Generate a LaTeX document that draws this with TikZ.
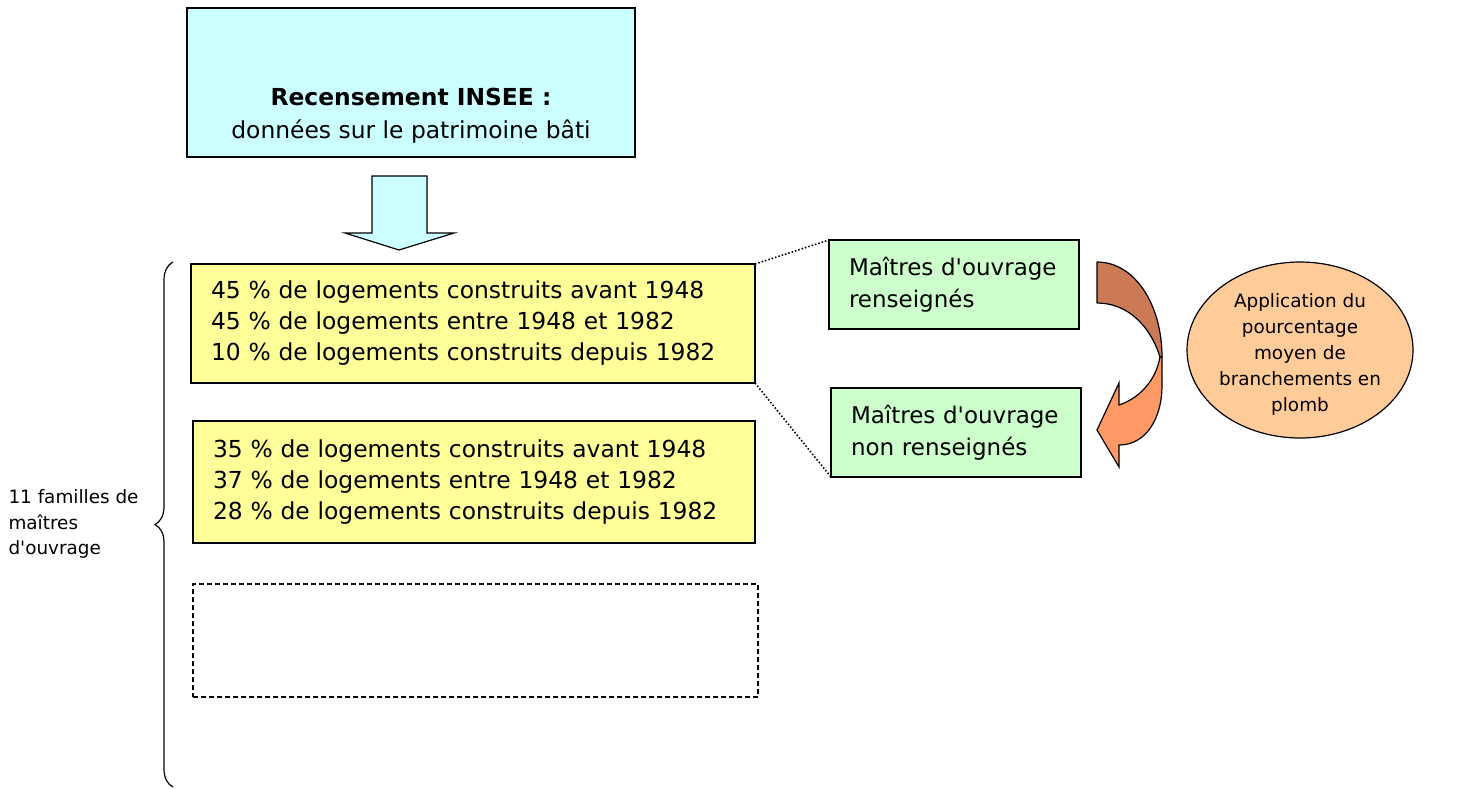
\documentclass[tikz,border=0pt]{standalone}
\usepackage{fontspec}
\setmainfont{DejaVu Sans}
\usetikzlibrary{decorations.pathreplacing,shapes.geometric}
\definecolor{cyanbox}{HTML}{CCFFFF}
\definecolor{yelbox}{HTML}{FFFF99}
\definecolor{grnbox}{HTML}{CCFFCC}
\definecolor{ellfill}{HTML}{FFCC99}
\definecolor{arrdark}{HTML}{CC7A55}
\definecolor{arrlight}{HTML}{FF9966}
\newcommand{\apos}{\textquotesingle}
\tikzset{
  box/.style={draw=black, line width=1.2pt, inner sep=0pt, outer sep=0pt},
  bigtxt/.style={font=\fontsize{23.4}{31}\selectfont},
  smalltxt/.style={font=\fontsize{18.4}{25.5}\selectfont},
  ybox/.style={box, fill=yelbox, bigtxt, align=left, text width=#1},
  gbox/.style={box, fill=grnbox, font=\fontsize{23}{32}\selectfont, align=left, text width=210pt, minimum width=250pt, minimum height=89pt},
  dots/.style={line width=1.6pt, dash pattern=on 1.5pt off 2pt},
}
\begin{document}
\begin{tikzpicture}[x=1pt,y=-1pt]
\useasboundingbox (0,0) rectangle (1458,788);
% top box
\node[box, fill=cyanbox, minimum width=448pt, minimum height=149pt] (insee) at (411,82.5) {};
\node[font=\fontsize{23.4}{33}\selectfont, align=center] (inseetxt) at (411,116) {\textbf{Recensement INSEE :}\\données sur le patrimoine bâti};
% block arrow
\draw[line width=1.2pt, fill=cyanbox, line join=miter]
  (372,176) -- (427,176) -- (427,233) -- (454,233) -- (399,250) -- (345,233) -- (372,233) -- cycle;
% yellow boxes
\node[ybox=524pt, minimum width=564pt, minimum height=119pt] (y1) at (473,323.5)
  {45 \% de logements construits avant 1948\\45 \% de logements entre 1948 et 1982\\10 \% de logements construits depuis 1982};
\node[ybox=522pt, minimum width=562pt, minimum height=122pt] (y2) at (474,482)
  {35 \% de logements construits avant 1948\\37 \% de logements entre 1948 et 1982\\28 \% de logements construits depuis 1982};
\node[draw=black, line width=1.2pt, dash pattern=on 5pt off 3pt, minimum width=565pt, minimum height=113pt, inner sep=0pt] (y3) at (475.5,640.5) {};
% brace
\coordinate (bb) at (173,787);
\coordinate (bt) at (173,262);
\draw[line width=1.2pt, decorate, decoration={brace, amplitude=18pt}] (bb) -- (bt);
\node[smalltxt, align=left, anchor=north west] (fam) at (5,486) {11 familles de\\maîtres\\d\apos ouvrage};
% green boxes
\node[gbox] (g1) at (954,284.5) {Maîtres d\apos ouvrage\\renseignés};
\node[gbox] (g2) at (956,432.5) {Maîtres d\apos ouvrage\\non renseignés};
\draw[dots] (y1.north east) -- (g1.north west);
\draw[dots] (y1.south east) -- (g2.south west);
% curved arrow
\draw[line width=1.2pt, fill=arrdark, line join=round]
  (1097,262) .. controls (1135,262) and (1162,305) .. (1162,357)
  -- (1160,357) .. controls (1150,325) and (1127,303) .. (1097,303) -- cycle;
\draw[line width=1.2pt, fill=arrlight, line join=miter]
  (1160,357) -- (1162,357) -- (1162,385) .. controls (1162,420) and (1145,445) .. (1119,445)
  -- (1119,467) -- (1097,430) -- (1119,383) -- (1119,405)
  .. controls (1140,398) and (1156,380) .. (1160,357) -- cycle;
% ellipse
\node[ellipse, draw=black, line width=1.2pt, fill=ellfill, minimum width=226pt, minimum height=176pt, inner sep=0pt] (ell) at (1300,350) {};
\node[font=\fontsize{18.4}{26}\selectfont, align=center] (elltxt) at (1300,354) {Application du\\pourcentage\\moyen de\\branchements en\\plomb};
\end{tikzpicture}
\end{document}
